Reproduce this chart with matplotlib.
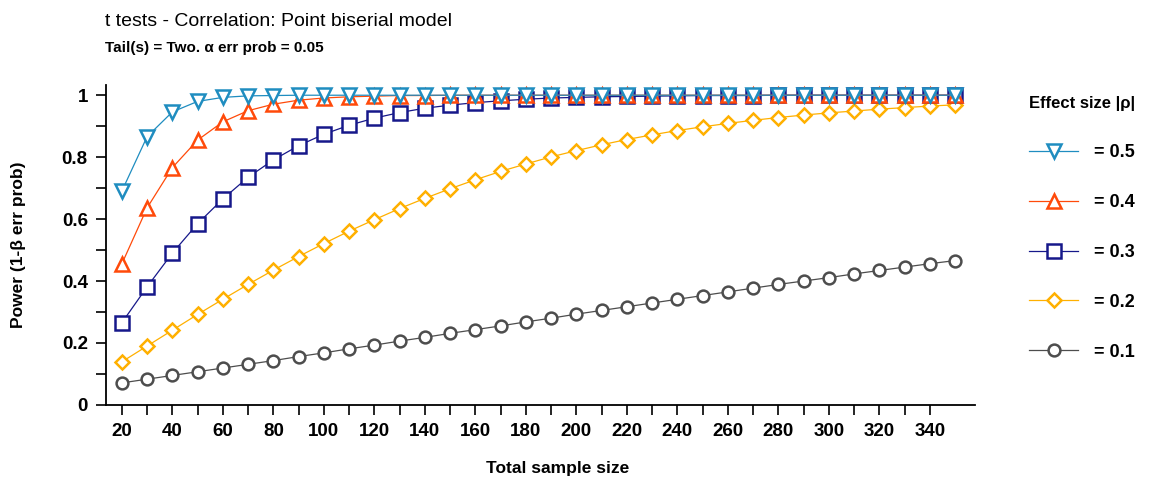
import matplotlib
matplotlib.use("Agg")
import matplotlib.pyplot as plt

plt.rcParams['font.family'] = ['Liberation Sans', 'DejaVu Sans']

# total sample size (x) and power for each effect size
n_total = list(range(20, 351, 10))

power_05 = [0.690, 0.866, 0.946, 0.980, 0.993, 0.998, 0.999, 1.0, 1.0, 1.0,
            1.0, 1.0, 1.0, 1.0, 1.0, 1.0, 1.0, 1.0, 1.0, 1.0,
            1.0, 1.0, 1.0, 1.0, 1.0, 1.0, 1.0, 1.0, 1.0, 1.0,
            1.0, 1.0, 1.0, 1.0]
power_04 = [0.455, 0.636, 0.766, 0.855, 0.914, 0.950, 0.971, 0.984, 0.991, 0.995,
            0.997, 0.999, 0.999, 1.0, 1.0, 1.0, 1.0, 1.0, 1.0, 1.0,
            1.0, 1.0, 1.0, 1.0, 1.0, 1.0, 1.0, 1.0, 1.0, 1.0,
            1.0, 1.0, 1.0, 1.0]
power_03 = [0.265, 0.381, 0.490, 0.585, 0.665, 0.735, 0.791, 0.837, 0.874, 0.903,
            0.926, 0.944, 0.958, 0.968, 0.976, 0.982, 0.987, 0.991, 0.993, 0.995,
            0.996, 0.997, 0.998, 0.999, 0.999, 0.999, 1.0, 1.0, 1.0, 1.0,
            1.0, 1.0, 1.0, 1.0]
power_02 = [0.139, 0.190, 0.241, 0.292, 0.341, 0.389, 0.435, 0.479, 0.521, 0.561,
            0.598, 0.634, 0.667, 0.698, 0.727, 0.754, 0.778, 0.801, 0.821, 0.840,
            0.857, 0.872, 0.886, 0.898, 0.909, 0.919, 0.928, 0.936, 0.943, 0.949,
            0.955, 0.960, 0.965, 0.969]
power_01 = [0.071, 0.083, 0.095, 0.107, 0.119, 0.131, 0.143, 0.156, 0.168, 0.181,
            0.193, 0.206, 0.218, 0.231, 0.243, 0.255, 0.268, 0.280, 0.293, 0.305,
            0.317, 0.329, 0.341, 0.353, 0.365, 0.377, 0.389, 0.400, 0.411, 0.423,
            0.434, 0.445, 0.456, 0.466]

labels = ['= 0.5', '= 0.4', '= 0.3', '= 0.2', '= 0.1']
series = [power_05, power_04, power_03, power_02, power_01]
colors = ['#1f8dc0', '#ff4a0a', '#16188a', '#ffb000', '#4d4d4d']
markers = ['v', '^', 's', 'D', 'o']
msizes = [9.5, 9.5, 9.5, 7, 8.5]
zorders = [5, 4, 3, 2, 2]

fig = plt.figure(figsize=(11.51, 4.82), dpi=100)
ax = fig.add_axes([0.092, 0.160, 0.755, 0.663])

for y, lab, c, m, ms, z in zip(series, labels, colors, markers, msizes, zorders):
    ax.plot(n_total, y, color=c, lw=0.9, marker=m, ms=ms, mfc='white',
            mec=c, mew=1.8, label=lab, zorder=z)

ax.set_xlim(13.7, 357.8)
ax.set_ylim(0, 1.032)
ax.spines['top'].set_visible(False)
ax.spines['right'].set_visible(False)
ax.spines['left'].set_linewidth(1.3)
ax.spines['bottom'].set_linewidth(1.3)

ax.set_xticks(range(20, 341, 10))
ax.set_xticklabels([str(v) if v % 20 == 0 else '' for v in range(20, 341, 10)])
ax.set_yticks([i / 10 for i in range(11)])
ax.set_yticklabels(['0', '', '0.2', '', '0.4', '', '0.6', '', '0.8', '', '1'])
ax.tick_params(direction='out', length=7, width=1.2, labelsize=13.5, pad=6)
for t in ax.get_xticklabels() + ax.get_yticklabels():
    t.set_fontweight('bold')

ax.set_xlabel('Total sample size', fontsize=12.5, fontweight='bold', labelpad=15,
              x=0.52)
ax.set_ylabel('Power (1-β err prob)', fontsize=12.5, fontweight='bold', labelpad=26)

fig.text(0.091, 0.955, 't tests - Correlation: Point biserial model', fontsize=14,
         va='center', ha='left')
fig.text(0.091, 0.900, 'Tail(s) = Two. α err prob = 0.05', fontsize=11,
         fontweight='bold', va='center', ha='left')

leg = ax.legend(loc='upper left', bbox_to_anchor=(0.880, 0.834),
                bbox_transform=fig.transFigure, frameon=False,
                title='Effect size |ρ|', handlelength=2.7, handletextpad=0.9,
                labelspacing=1.82, prop={'weight': 'bold', 'size': 13},
                title_fontproperties={'weight': 'bold', 'size': 12})
leg._legend_box.align = 'left'

fig.savefig('out.png', dpi=100)
